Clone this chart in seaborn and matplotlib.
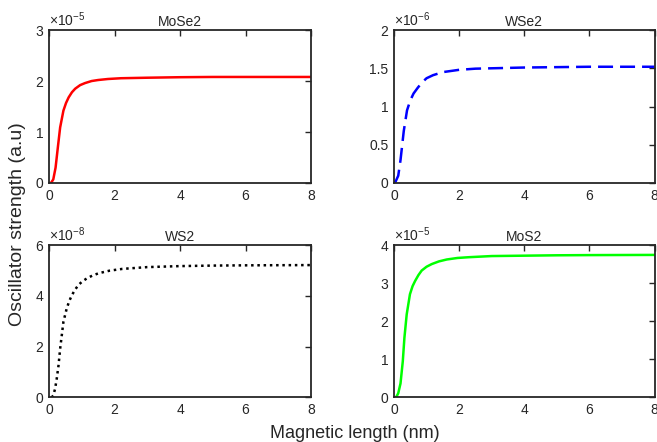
import matplotlib
matplotlib.use("Agg")
import matplotlib.pyplot as plt
import matplotlib.ticker as mticker
import seaborn as sns


# values (x in nm, y as mantissa of the axis exponent)
mose2_x = [0, 0.06, 0.13, 0.2, 0.27, 0.34, 0.44, 0.52, 0.6, 0.7, 0.8, 0.95, 1.1, 1.3, 1.5,
           1.8, 2.2, 3, 4, 5, 6, 7, 8]
mose2_y = [0, 0, 0.07, 0.30, 0.70, 1.09, 1.42, 1.57, 1.68, 1.78, 1.85, 1.92, 1.96, 2.0, 2.02,
           2.04, 2.055, 2.065, 2.075, 2.08, 2.08, 2.08, 2.08]
mose2_exp = -5

wse2_x = [0, 0.03, 0.13, 0.2, 0.3, 0.4, 0.5, 0.6, 0.72, 0.85, 1.0, 1.2, 1.5, 2.0, 2.5, 3, 4,
          5, 6, 8]
wse2_y = [0, 0, 0.095, 0.3, 0.68, 0.95, 1.08, 1.17, 1.24, 1.31, 1.37, 1.41, 1.45, 1.48, 1.495,
          1.50, 1.51, 1.515, 1.52, 1.52]
wse2_exp = -6

ws2_x = [0.08, 0.13, 0.185, 0.236, 0.29, 0.34, 0.39, 0.44, 0.54, 0.62, 0.70, 0.80, 0.90, 1.02,
         1.16, 1.33, 1.52, 1.85, 2.24, 3, 4, 5, 6, 8]
ws2_y = [0, 0.08, 0.34, 0.74, 1.26, 1.92, 2.45, 2.98, 3.5, 3.8, 4.03, 4.25, 4.43, 4.57, 4.69,
         4.8, 4.89, 4.99, 5.06, 5.13, 5.17, 5.19, 5.2, 5.21]
ws2_exp = -8

mos2_x = [0, 0.06, 0.13, 0.2, 0.27, 0.32, 0.39, 0.49, 0.57, 0.65, 0.75, 0.85, 1.0, 1.16, 1.38,
          1.62, 1.95, 2.3, 3, 4, 5, 6, 8]
mos2_y = [0, 0, 0.11, 0.37, 0.95, 1.57, 2.18, 2.71, 2.92, 3.06, 3.21, 3.33, 3.43, 3.5, 3.57,
          3.62, 3.66, 3.68, 3.71, 3.72, 3.73, 3.735, 3.74]
mos2_exp = -5

x_ticks = [0, 2, 4, 6, 8]


def draw_panel(ax, xs, ys, exp, title, color, style, ymax, ystep):
	scale = 10.0 ** exp
	y_real = [v * scale for v in ys]
	sns.lineplot(x=xs, y=y_real, ax=ax, color=color, linewidth=1.8, linestyle=style)
	ax.set_xlim(0, 8)
	ax.set_ylim(0, ymax * scale)
	ax.set_xticks(x_ticks)
	n = int(round(ymax / ystep))
	ax.set_yticks([i * ystep * scale for i in range(n + 1)])
	ax.yaxis.set_major_formatter(mticker.FuncFormatter(lambda v, p: f"{v / scale:g}"))
	ax.tick_params(direction="in", length=4, width=1.0, top=True, right=True,
				   labelsize=10, pad=4, colors="#262626", labelcolor="#262626")
	for sp in ax.spines.values():
		sp.set_linewidth(1.3)
		sp.set_color("#262626")
	ax.set_title(title, fontsize=10, pad=3)
	ax.text(0.0, 1.005, r"$\times10^{%d}$" % exp, transform=ax.transAxes,
			ha="left", va="bottom", fontsize=10, color="#262626")
	ax.set_xlabel("")
	ax.set_ylabel("")


def main():
	sns.set_style("white")
	plt.rcParams["font.family"] = ["Liberation Sans", "DejaVu Sans"]
	plt.rcParams["mathtext.fontset"] = "custom"
	plt.rcParams["mathtext.rm"] = "Liberation Sans"
	plt.rcParams["mathtext.it"] = "Liberation Sans"

	fig = plt.figure(figsize=(6.57, 4.42), dpi=100)
	ax1 = fig.add_axes([0.0746, 0.586, 0.3988, 0.346])
	ax2 = fig.add_axes([0.5997, 0.586, 0.3965, 0.346])
	ax3 = fig.add_axes([0.0746, 0.1007, 0.3988, 0.345])
	ax4 = fig.add_axes([0.5997, 0.1007, 0.3965, 0.345])

	draw_panel(ax1, mose2_x, mose2_y, mose2_exp, "MoSe2", "#ff0000", "-", 3, 1)
	draw_panel(ax2, wse2_x, wse2_y, wse2_exp, "WSe2", "#0000ff", (0, (6, 2.8)), 2, 0.5)
	draw_panel(ax3, ws2_x, ws2_y, ws2_exp, "WS2", "#000000", (0, (1, 1.5)), 6, 2)
	draw_panel(ax4, mos2_x, mos2_y, mos2_exp, "MoS2", "#00ff00", "-", 4, 1)

	fig.text(0.54, 0.0, "Magnetic length (nm)", ha="center", va="bottom", fontsize=13,
			 color="#262626")
	fig.text(0.027, 0.493, "Oscillator strength (a.u)", ha="center", va="center",
			 rotation=90, fontsize=14, color="#262626")

	fig.savefig("out.png", dpi=100)


if __name__ == "__main__":
	main()
